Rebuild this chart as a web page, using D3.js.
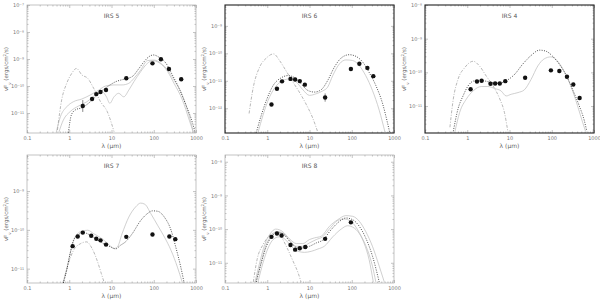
<!DOCTYPE html>
<html>
<head>
<meta charset="utf-8">
<script src="https://cdn.jsdelivr.net/npm/d3@7"></script>
<style>
  body { margin: 0; background: #fff; }
  text { font-family: "DejaVu Sans", sans-serif; fill: #666; }
  .obs { fill: #111; }
  .err { stroke: #555; stroke-width: 0.7; }
  .best { fill: none; stroke: #222; stroke-width: 0.8; stroke-dasharray: 1,1.4; }
  .fit { fill: none; stroke: #bbb; stroke-width: 0.7; }
  .star { fill: none; stroke: #999; stroke-width: 0.7; stroke-dasharray: 3,1.5,1,1.5; }
  .tick line { stroke: #888; stroke-width: 0.5; }
</style>
</head>
<body>
<svg id="chart" width="600" height="302"></svg>
<script>
// all pairs are [log10 lambda (um), log10 nuFnu (erg/cm2/s)]
const names = ["IRS 5", "IRS 6", "IRS 4", "IRS 7", "IRS 8"];
const xTicks = [0.1, 1, 10, 100, 1000];

const irs5Obs = [[0.32,-10.74],[0.54,-10.48],[0.64,-10.30],[0.74,-10.22],[0.87,-10.15],[1.35,-9.71],[1.97,-9.16],[2.17,-9.01],[2.36,-9.37],[2.65,-9.75]];
const irs5Err = [0.22,0,0,0,0,0,0,0,0,0];
const irs5Star = [[-0.28,-11.63],[-0.18,-10.52],[-0.06,-9.90],[0.06,-9.53],[0.17,-9.35],[0.30,-9.59],[0.44,-9.72],[0.58,-10.09],[0.74,-10.58],[0.90,-10.95],[1.06,-11.69]];
const irs5Best = [[-0.02,-11.73],[0.05,-11.07],[0.14,-10.89],[0.32,-10.79],[0.50,-10.58],[0.70,-10.27],[0.90,-10.03],[1.10,-9.84],[1.29,-9.75],[1.49,-9.65],[1.65,-9.35],[1.77,-9.10],[1.89,-8.91],[1.99,-8.85],[2.13,-8.94],[2.29,-9.16],[2.44,-9.59],[2.60,-10.09],[2.76,-10.70],[2.92,-11.38],[2.98,-11.73]];
const irs5FitA = [[-0.31,-11.73],[-0.21,-11.14],[-0.06,-10.77],[0.10,-10.58],[0.30,-10.48],[0.50,-10.33],[0.70,-10.15],[0.86,-10.00],[1.06,-9.96],[1.25,-9.96],[1.41,-9.90],[1.53,-9.72],[1.69,-9.41],[1.85,-9.06],[2.01,-9.04],[2.17,-9.16],[2.33,-9.41],[2.48,-9.78],[2.64,-10.21],[2.80,-10.89],[2.94,-11.73]];
const irs5FitB = [[-0.25,-11.73],[-0.14,-11.26],[0.02,-10.95],[0.22,-10.74],[0.42,-10.58],[0.62,-10.33],[0.78,-10.21],[0.88,-10.40],[0.96,-10.64],[1.06,-10.40],[1.17,-10.27],[1.29,-10.40],[1.41,-10.15],[1.53,-9.84],[1.69,-9.47],[1.85,-9.16],[1.97,-9.06],[2.13,-9.14],[2.33,-9.47],[2.48,-9.90],[2.68,-10.52],[2.84,-11.26],[2.94,-11.73]];

const irs6Obs = [[0.10,-11.86],[0.23,-11.29],[0.35,-11.02],[0.55,-10.93],[0.66,-10.95],[0.77,-11.01],[0.89,-11.14],[1.37,-11.61],[1.98,-10.57],[2.18,-10.38],[2.37,-10.53],[2.51,-10.83]];
const irs6Err = [0,0,0,0,0,0,0,0.15,0,0,0,0];
const irs6Star = [[-0.43,-12.19],[-0.33,-11.23],[-0.18,-10.50],[-0.02,-10.17],[0.15,-10.02],[0.29,-10.26],[0.45,-10.65],[0.61,-11.05],[0.77,-11.44],[0.92,-11.85],[1.08,-12.37],[1.20,-12.89]];
const irs6Best = [[-0.26,-12.89],[-0.14,-12.25],[-0.02,-11.71],[0.14,-11.17],[0.33,-10.89],[0.49,-10.81],[0.65,-10.89],[0.80,-11.11],[0.96,-11.35],[1.12,-11.41],[1.28,-11.32],[1.43,-10.99],[1.59,-10.50],[1.75,-10.17],[1.94,-10.05],[2.10,-10.11],[2.26,-10.32],[2.41,-10.69],[2.57,-11.17],[2.73,-11.83],[2.84,-12.49],[2.90,-12.89]];
const irs6Fit = [[-0.22,-12.89],[-0.10,-12.25],[0.02,-11.71],[0.18,-11.25],[0.37,-10.99],[0.53,-10.93],[0.69,-11.05],[0.84,-11.32],[1.00,-11.53],[1.16,-11.47],[1.31,-11.37],[1.43,-11.23],[1.55,-10.81],[1.71,-10.38],[1.86,-10.24],[2.02,-10.26],[2.18,-10.45],[2.33,-10.81],[2.49,-11.35],[2.65,-12.07],[2.79,-12.89]];

const irs4Obs = [[0.08,-10.50],[0.23,-10.27],[0.34,-10.25],[0.55,-10.34],[0.66,-10.33],[0.77,-10.33],[0.90,-10.26],[1.37,-10.16],[1.98,-9.94],[2.18,-9.96],[2.36,-10.13],[2.51,-10.36],[2.66,-10.76]];
const irs4Star = [[-0.41,-11.63],[-0.33,-10.79],[-0.22,-10.21],[-0.06,-9.86],[0.14,-9.67],[0.29,-9.81],[0.45,-10.11],[0.61,-10.40],[0.77,-10.79],[0.88,-11.19],[0.96,-11.75]];
const irs4Best = [[-0.33,-11.75],[-0.22,-11.09],[-0.10,-10.70],[0.02,-10.40],[0.18,-10.25],[0.37,-10.25],[0.57,-10.30],[0.77,-10.32],[0.92,-10.25],[1.12,-10.06],[1.31,-9.76],[1.51,-9.50],[1.71,-9.34],[1.86,-9.37],[2.02,-9.52],[2.18,-9.76],[2.33,-10.06],[2.49,-10.50],[2.65,-10.99],[2.77,-11.43],[2.83,-11.75]];
const irs4Fit = [[-0.29,-11.75],[-0.18,-11.19],[-0.02,-10.79],[0.14,-10.55],[0.33,-10.42],[0.49,-10.42],[0.65,-10.48],[0.80,-10.55],[0.92,-10.70],[1.04,-10.65],[1.20,-10.60],[1.35,-10.52],[1.51,-10.21],[1.67,-9.81],[1.82,-9.60],[1.98,-9.54],[2.14,-9.67],[2.29,-9.96],[2.45,-10.40],[2.61,-10.99],[2.73,-11.48],[2.80,-11.75]];

const irs7Obs = [[0.08,-10.42],[0.20,-10.17],[0.32,-10.07],[0.52,-10.15],[0.64,-10.23],[0.74,-10.27],[0.87,-10.38],[1.35,-10.18],[1.97,-10.12],[2.37,-10.17],[2.51,-10.24]];
const irs7Star = [[-0.14,-11.37],[-0.02,-10.87],[0.10,-10.53],[0.26,-10.36],[0.41,-10.31],[0.54,-10.48],[0.66,-10.79],[0.76,-11.13],[0.83,-11.37]];
const irs7Best = [[-0.14,-11.37],[-0.06,-11.04],[0.02,-10.61],[0.10,-10.27],[0.22,-10.12],[0.34,-10.07],[0.50,-10.14],[0.66,-10.25],[0.82,-10.36],[0.98,-10.44],[1.10,-10.49],[1.21,-10.40],[1.33,-10.31],[1.49,-10.10],[1.69,-9.76],[1.85,-9.58],[1.97,-9.51],[2.09,-9.52],[2.25,-9.67],[2.41,-10.01],[2.52,-10.44],[2.64,-10.96],[2.72,-11.37]];
const irs7Fit = [[-0.15,-11.37],[-0.06,-11.00],[0.04,-10.53],[0.14,-10.18],[0.30,-10.03],[0.44,-10.01],[0.58,-10.10],[0.74,-10.20],[0.90,-10.34],[1.06,-10.48],[1.14,-10.44],[1.25,-10.10],[1.41,-9.67],[1.57,-9.41],[1.69,-9.31],[1.79,-9.34],[1.93,-9.58],[2.09,-9.88],[2.25,-10.18],[2.41,-10.53],[2.56,-10.96],[2.68,-11.37]];

const irs8Obs = [[0.10,-10.23],[0.23,-10.13],[0.34,-10.19],[0.55,-10.47],[0.66,-10.61],[0.77,-10.57],[0.90,-10.53],[1.37,-10.29],[1.98,-9.80]];
const irs8Star = [[-0.33,-11.57],[-0.24,-10.90],[-0.10,-10.46],[0.06,-10.19],[0.20,-10.10],[0.33,-10.23],[0.47,-10.56],[0.61,-10.95],[0.73,-11.30],[0.80,-11.57]];
const irs8Best = [[-0.26,-11.57],[-0.14,-11.00],[-0.02,-10.51],[0.10,-10.23],[0.23,-10.10],[0.37,-10.14],[0.53,-10.36],[0.69,-10.54],[0.84,-10.56],[1.00,-10.51],[1.16,-10.41],[1.31,-10.33],[1.51,-10.02],[1.71,-9.77],[1.86,-9.67],[2.02,-9.72],[2.18,-9.92],[2.33,-10.26],[2.49,-10.80],[2.65,-11.57]];
const irs8FitA = [[-0.29,-11.57],[-0.18,-11.00],[-0.06,-10.46],[0.08,-10.12],[0.20,-10.00],[0.36,-10.07],[0.53,-10.29],[0.69,-10.43],[0.84,-10.43],[1.00,-10.31],[1.12,-10.26],[1.28,-10.21],[1.47,-9.92],[1.67,-9.72],[1.86,-9.60],[2.02,-9.62],[2.18,-9.77],[2.33,-10.07],[2.49,-10.51],[2.65,-11.10],[2.77,-11.57]];
const irs8FitB = [[-0.22,-11.57],[-0.10,-11.00],[0.02,-10.56],[0.14,-10.31],[0.28,-10.23],[0.41,-10.29],[0.57,-10.51],[0.73,-10.66],[0.88,-10.69],[1.04,-10.66],[1.20,-10.59],[1.35,-10.51],[1.55,-10.23],[1.75,-10.00],[1.90,-9.90],[2.06,-9.97],[2.22,-10.21],[2.37,-10.61],[2.49,-11.10],[2.57,-11.57]];
const irs8FitC = [[-0.27,-11.57],[-0.16,-11.05],[-0.04,-10.51],[0.10,-10.19],[0.23,-10.07],[0.37,-10.12],[0.53,-10.33],[0.69,-10.51],[0.84,-10.51],[1.00,-10.41],[1.16,-10.31],[1.31,-10.23],[1.51,-9.94],[1.67,-9.74],[1.82,-9.70],[1.98,-9.77],[2.14,-10.02],[2.29,-10.41],[2.41,-10.90],[2.51,-11.57]];

// y ranges (log10) of each panel
const yRanges = [[-11.74, -7], [-12.9, -8.24], [-11.8, -8], [-11.37, -8.07], [-11.6, -7.8]];

const panels = [
  { x0: 27,  y0: 5,   dark: false, obs: irs5Obs, err: irs5Err, star: irs5Star, best: irs5Best, fits: [irs5FitA, irs5FitB] },
  { x0: 225, y0: 5,   dark: true,  obs: irs6Obs, err: irs6Err, star: irs6Star, best: irs6Best, fits: [irs6Fit] },
  { x0: 425, y0: 5,   dark: true,  obs: irs4Obs, err: null,    star: irs4Star, best: irs4Best, fits: [irs4Fit] },
  { x0: 27,  y0: 155, dark: false, obs: irs7Obs, err: null,    star: irs7Star, best: irs7Best, fits: [irs7Fit] },
  { x0: 225, y0: 155, dark: false, obs: irs8Obs, err: null,    star: irs8Star, best: irs8Best, fits: [irs8FitA, irs8FitB, irs8FitC] }
];
const W = 169, H = 128;

const svg = d3.select("#chart");
const sup = { "-": "\u207b", "0": "\u2070", "1": "\u00b9", "2": "\u00b2", "3": "\u00b3", "4": "\u2074",
              "5": "\u2075", "6": "\u2076", "7": "\u2077", "8": "\u2078", "9": "\u2079" };
function powLabel(v) {
  let e = Math.round(Math.log10(v));
  return "10" + String(e).split("").map(c => sup[c]).join("");
}
function minors(lo, hi) {
  let out = [];
  for (let e = Math.floor(lo); e <= Math.ceil(hi); e++) {
    for (let k = 2; k <= 9; k++) {
      let v = k * Math.pow(10, e);
      if (Math.log10(v) > lo && Math.log10(v) < hi) out.push(v);
    }
  }
  return out;
}

panels.forEach((p, i) => {
  let yr = yRanges[i];
  let x = d3.scaleLog().domain([0.1, 1000]).range([p.x0, p.x0 + W]);
  let y = d3.scaleLog().domain([Math.pow(10, yr[0]), Math.pow(10, yr[1])]).range([p.y0 + H, p.y0]);
  let g = svg.append("g");

  let yMajor = d3.range(Math.ceil(yr[0]), Math.floor(yr[1]) + 1).map(e => Math.pow(10, e));
  let xMinor = minors(-1, 3), yMinor = minors(yr[0], yr[1]);

  // ticks on all four sides, pointing inward
  let axes = [
    [d3.axisBottom(x).tickValues(xTicks).tickSize(-3).tickFormat(d => d3.format("~g")(d)), `translate(0,${p.y0 + H})`],
    [d3.axisBottom(x).tickValues(xMinor).tickSize(-1.5).tickFormat(""), `translate(0,${p.y0 + H})`],
    [d3.axisTop(x).tickValues(xTicks).tickSize(-3).tickFormat(""), `translate(0,${p.y0})`],
    [d3.axisTop(x).tickValues(xMinor).tickSize(-1.5).tickFormat(""), `translate(0,${p.y0})`],
    [d3.axisLeft(y).tickValues(yMajor).tickSize(-3).tickFormat(powLabel), `translate(${p.x0},0)`],
    [d3.axisLeft(y).tickValues(yMinor).tickSize(-1.5).tickFormat(""), `translate(${p.x0},0)`],
    [d3.axisRight(y).tickValues(yMajor).tickSize(-3).tickFormat(""), `translate(${p.x0 + W},0)`],
    [d3.axisRight(y).tickValues(yMinor).tickSize(-1.5).tickFormat(""), `translate(${p.x0 + W},0)`]
  ];
  axes.forEach(a => {
    let ax = g.append("g").attr("transform", a[1]).call(a[0].tickPadding(3));
    ax.select(".domain").remove();
    ax.selectAll("text").style("font-size", "5px").style("fill", "#777").attr("font-family", null);
  });

  g.append("rect")
    .attr("x", p.x0).attr("y", p.y0).attr("width", W).attr("height", H)
    .attr("fill", "none")
    .attr("stroke", p.dark ? "#222" : "#aaa")
    .attr("stroke-width", p.dark ? 1.1 : 0.7);

  let clipId = "clip" + i;
  svg.append("clipPath").attr("id", clipId)
    .append("rect").attr("x", p.x0).attr("y", p.y0).attr("width", W).attr("height", H);

  let line = d3.line()
    .x(d => x(Math.pow(10, d[0])))
    .y(d => y(Math.pow(10, d[1])))
    .curve(d3.curveMonotoneX);

  let plot = g.append("g").attr("clip-path", `url(#${clipId})`);
  p.fits.forEach(f => plot.append("path").attr("class", "fit").attr("d", line(f)));
  plot.append("path").attr("class", "star").attr("d", line(p.star));
  plot.append("path").attr("class", "best").attr("d", line(p.best));

  if (p.err) {
    let withErr = p.obs.map((d, j) => [d, p.err[j]]).filter(d => d[1] > 0);
    plot.selectAll(".err").data(withErr)
      .enter().append("line").attr("class", "err")
      .attr("x1", d => x(Math.pow(10, d[0][0]))).attr("x2", d => x(Math.pow(10, d[0][0])))
      .attr("y1", d => y(Math.pow(10, d[0][1] - d[1]))).attr("y2", d => y(Math.pow(10, d[0][1] + d[1])));
  }
  plot.selectAll(".obs").data(p.obs).enter().append("circle")
    .attr("class", "obs")
    .attr("cx", d => x(Math.pow(10, d[0])))
    .attr("cy", d => y(Math.pow(10, d[1])))
    .attr("r", 2.2);

  g.append("text")
    .attr("x", p.x0 + W / 2).attr("y", p.y0 + 13)
    .attr("text-anchor", "middle").style("font-size", "6px").style("fill", "#555")
    .text(names[i]);

  g.append("text")
    .attr("x", p.x0 + W / 2).attr("y", p.y0 + H + 15)
    .attr("text-anchor", "middle").style("font-size", "6px")
    .text("\u03bb (\u03bcm)");

  let yl = g.append("text")
    .attr("transform", `translate(${p.x0 - 19},${p.y0 + H / 2}) rotate(-90)`)
    .attr("text-anchor", "middle").style("font-size", "5.5px");
  yl.append("tspan").text("\u03bdF");
  yl.append("tspan").attr("baseline-shift", "sub").style("font-size", "4px").text("\u03bd");
  yl.append("tspan").text(" (ergs/cm");
  yl.append("tspan").attr("baseline-shift", "super").style("font-size", "4px").text("2");
  yl.append("tspan").text("/s)");
});
</script>
</body>
</html>
